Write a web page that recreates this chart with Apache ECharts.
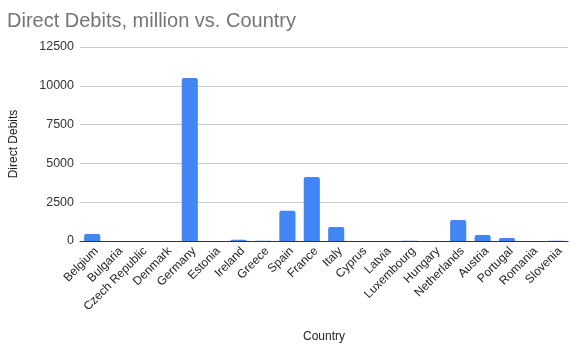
<!DOCTYPE html>
<html>
<head>
<meta charset="utf-8">
<script src="https://cdn.jsdelivr.net/npm/echarts@6/dist/echarts.min.js"></script>
<style>
  html, body { margin: 0; padding: 0; background: #fff; }
  #chart { width: 570px; height: 352px; }
</style>
</head>
<body>
<div id="chart"></div>
<script>
// data
var countries = ['Belgium', 'Bulgaria', 'Czech Republic', 'Denmark', 'Germany', 'Estonia', 'Ireland',
  'Greece', 'Spain', 'France', 'Italy', 'Cyprus', 'Latvia', 'Luxembourg', 'Hungary',
  'Netherlands', 'Austria', 'Portugal', 'Romania', 'Slovenia']
var directDebits = [450, 0, 0, 0, 10500, 0, 80, 20, 1950, 4120, 900, 0, 0, 15, 0, 1350, 390, 190, 0, 15]
var yTicks = [0, 2500, 5000, 7500, 10000, 12500]

var chart = echarts.init(document.getElementById('chart'), null, { renderer: 'canvas' })

chart.setOption({
  animation: false,
  textStyle: { fontFamily: 'Liberation Sans, Arial, sans-serif' },
  title: {
    text: 'Direct Debits, million vs. Country',
    left: 2,
    top: 6,
    textStyle: { fontSize: 20, fontWeight: 'normal', color: '#757575' }
  },
  grid: {
    left: 78,
    right: 2,
    top: 47,
    bottom: 111
  },
  xAxis: {
    type: 'category',
    data: countries,
    name: 'Country',
    nameLocation: 'middle',
    nameGap: 90,
    nameTextStyle: { fontSize: 12, color: '#222' },
    axisLine: { lineStyle: { color: '#333', width: 1 } },
    axisTick: { show: false },
    axisLabel: {
      interval: 0,
      rotate: 45,
      fontSize: 12,
      color: '#222',
      margin: 4,
      verticalAlign: 'top'
    }
  },
  yAxis: {
    type: 'value',
    min: yTicks[0],
    max: yTicks[yTicks.length - 1],
    interval: 2500,
    name: 'Direct Debits',
    nameLocation: 'middle',
    nameGap: 60,
    nameTextStyle: { fontSize: 12, color: '#222' },
    axisLine: { show: false },
    axisTick: { show: false },
    axisLabel: {
      fontSize: 12.5,
      color: '#333',
      margin: 6,
      formatter: function (v) { return String(v) }
    },
    splitLine: { lineStyle: { color: '#cccccc', width: 1 } }
  },
  series: [{
    name: 'Direct Debits',
    type: 'bar',
    data: directDebits,
    barCategoryGap: '34%',
    itemStyle: {
      color: '#4285f4',
      borderRadius: [2, 2, 0, 0]
    }
  }]
})
</script>
</body>
</html>
